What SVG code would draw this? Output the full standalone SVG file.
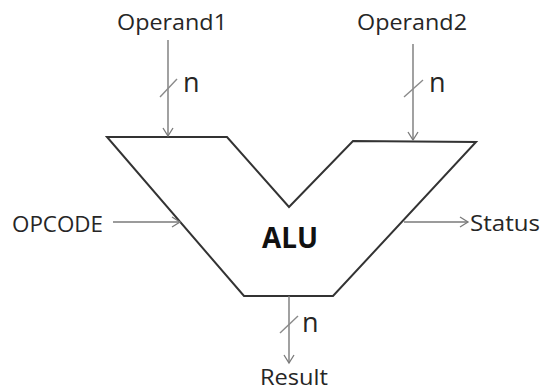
<svg xmlns="http://www.w3.org/2000/svg" width="543" height="390" viewBox="0 0 543 390">
<defs>
<marker id="arr" markerWidth="12" markerHeight="12" refX="10" refY="6" orient="auto" markerUnits="userSpaceOnUse">
<path d="M2,1 L10,6 L2,11" fill="none" stroke="#7a7a7a" stroke-width="1.3"/>
</marker>
</defs>
<style>
text{font-family:"Open Sans","Noto Sans",sans-serif;fill:#262626;font-size:21px}
.n{font-size:27px}
.alu{font-size:28px;font-weight:bold;fill:#111}
.w{stroke:#7a7a7a;stroke-width:1.4;fill:none}
.sl{stroke:#8a8a8a;stroke-width:1.4;fill:none}
</style>
<rect width="543" height="390" fill="#fff"/>
<g id="alu">
<polygon points="107,137 227,137 289,207 353,141 476,142 333,296 244,296" fill="#fff" stroke="#333" stroke-width="2" stroke-linejoin="miter"/>
<text class="alu" x="290" y="248" text-anchor="middle" textLength="56" lengthAdjust="spacingAndGlyphs">ALU</text>
</g>
<g id="operand1">
<text x="172" y="30" text-anchor="middle" textLength="110" lengthAdjust="spacingAndGlyphs">Operand1</text>
</g>
<g id="operand2">
<text x="412" y="30" text-anchor="middle" textLength="110" lengthAdjust="spacingAndGlyphs">Operand2</text>
</g>
<g id="opcode">
<text x="12" y="232" textLength="91" lengthAdjust="spacingAndGlyphs">OPCODE</text>
</g>
<g id="status">
<text x="470" y="231" textLength="70" lengthAdjust="spacingAndGlyphs">Status</text>
</g>
<g id="result">
<text x="294" y="385" text-anchor="middle" textLength="68" lengthAdjust="spacingAndGlyphs">Result</text>
</g>
<g id="connectors">
<line class="w" x1="168" y1="40" x2="168" y2="136" marker-end="url(#arr)"/>
<line class="sl" x1="160" y1="97" x2="177" y2="79"/>
<text class="n" x="183" y="92">n</text>
<line class="w" x1="413" y1="44" x2="413" y2="140" marker-end="url(#arr)"/>
<line class="sl" x1="404" y1="97" x2="423" y2="80"/>
<text class="n" x="429" y="92">n</text>
<line class="w" x1="113" y1="222" x2="180" y2="222" marker-end="url(#arr)"/>
<line class="w" x1="404" y1="222" x2="468" y2="222" marker-end="url(#arr)"/>
<line class="w" x1="289" y1="296" x2="289" y2="363" marker-end="url(#arr)"/>
<line class="sl" x1="280" y1="333" x2="298" y2="316"/>
<text class="n" x="302" y="332">n</text>
</g>
</svg>
